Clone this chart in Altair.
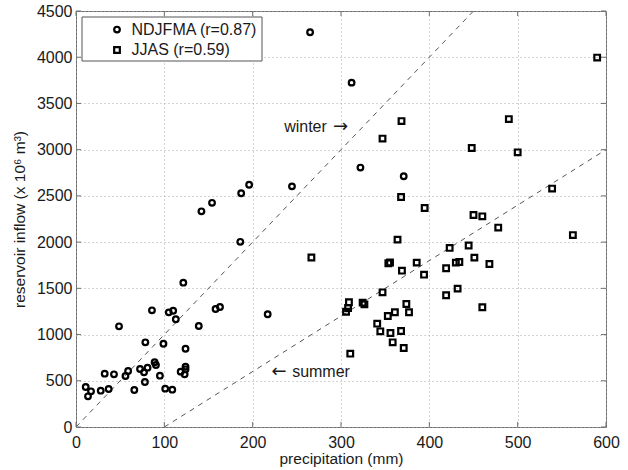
import altair as alt
import pandas as pd

SERIES = ["NDJFMA (r=0.87)", "JJAS (r=0.59)"]
SHAPES = ["circle", "square"]

WIN_X = [265, 312, 322, 371, 244.5, 196, 187, 154, 142, 186,
         217, 121.5, 86, 105, 110, 113, 158, 163, 139, 48.7,
         78.5, 99, 124, 89, 90.5, 72.5, 81, 77, 59, 56,
         32.5, 43, 95, 78, 118.5, 124, 124, 123, 11, 13.6,
         17, 28, 37, 66, 101, 109]
WIN_Y = [4270, 3725, 2806, 2712, 2603, 2620, 2528, 2425, 2333, 2003,
         1220, 1561, 1262, 1240, 1258, 1165, 1276, 1298, 1093, 1089,
         916, 901, 847, 700, 671, 627, 642, 591, 606, 552,
         577, 570, 555, 487, 599, 653, 624, 570, 433, 332,
         386, 393, 411, 400, 415, 404]

SUM_X = [590, 490, 368.5, 347, 448, 500, 539, 562.5, 266.5,
         368, 394.7, 450, 460, 478, 364, 423, 444.5, 353.6, 355.5,
         385.7, 430, 434, 451, 468, 369, 394, 419, 432, 419,
         460, 347, 309, 308, 305.7, 324.5, 326.5, 374, 377, 361,
         353, 341, 344.5, 356, 368, 358.5, 371, 310.5]
SUM_Y = [3996, 3331, 3309, 3120, 3018, 2971, 2579, 2076, 1833,
         2488, 2369, 2293, 2279, 2157, 2027, 1937, 1963, 1771, 1779,
         1778, 1778, 1785, 1832, 1763, 1691, 1648, 1717, 1497, 1425,
         1295, 1457, 1349, 1287, 1247, 1345, 1327, 1331, 1241, 1241,
         1201, 1118, 1035, 1017, 1038, 916, 855, 793]

# reference lines
LINE_NAMES = ["winter", "winter", "summer", "summer"]
LINE_X = [0, 450, 100, 600]
LINE_Y = [0, 4500, 0, 3000]

# annotations (words and arrows)
WORD_TEXT = ["winter", "summer"]
WORD_X = [259.8, 277.4]
WORD_Y = [3242, 593]
ARROW_TEXT = ["\u2192", "\u2190"]
ARROW_X = [299.4, 229.8]
ARROW_Y = [3242, 593]

X_TICKS = [0, 100, 200, 300, 400, 500, 600]
Y_TICKS = [0, 500, 1000, 1500, 2000, 2500, 3000, 3500, 4000, 4500]

W, H = 530, 416
FONT = "Liberation Sans"
TXT = "#1a1a1a"
BOX = "#6e6e6e"

pts = pd.DataFrame({
    "x": WIN_X + SUM_X,
    "y": WIN_Y + SUM_Y,
    "series": [SERIES[0]] * len(WIN_X) + [SERIES[1]] * len(SUM_X),
})
lines = pd.DataFrame({"x": LINE_X, "y": LINE_Y, "line": LINE_NAMES})
words = pd.DataFrame({"x": WORD_X, "y": WORD_Y, "t": WORD_TEXT})
arrows = pd.DataFrame({"x": ARROW_X, "y": ARROW_Y, "t": ARROW_TEXT})
xt = pd.DataFrame({"x": X_TICKS})
yt = pd.DataFrame({"y": Y_TICKS})

xs = alt.Scale(domain=[0, 600], nice=False, zero=False)
ys = alt.Scale(domain=[0, 4500], nice=False, zero=False)
X_TITLE = "precipitation (mm)"
Y_TITLE = "reservoir inflow (x 10\u2076 m\u00b3)"

ax_x = alt.Axis(values=X_TICKS, grid=True, gridDash=[1, 3], gridColor="#a8a8a8",
                ticks=False, domain=False, labelFontSize=16, labelFont=FONT,
                labelColor=TXT, labelPadding=7, titleFontSize=15.5, titleFont=FONT,
                titleFontWeight="normal", titleColor=TXT, titlePadding=1,
                format="d", labelFlush=False)
ax_y = alt.Axis(values=Y_TICKS, grid=True, gridDash=[1, 3], gridColor="#a8a8a8",
                ticks=False, domain=False, labelFontSize=16, labelFont=FONT,
                labelColor=TXT, labelPadding=4, titleFontSize=15.5, titleFont=FONT,
                titleFontWeight="normal", titleColor=TXT, titlePadding=9,
                format="d", labelFlush=False)


def X(field="x"):
    return alt.X(f"{field}:Q", scale=xs, axis=ax_x, title=X_TITLE)


def Y(field="y"):
    return alt.Y(f"{field}:Q", scale=ys, axis=ax_y, title=Y_TITLE)


points = alt.Chart(pts).mark_point(
    filled=False, size=32, strokeWidth=2.2, color="black", opacity=1
).encode(
    x=X(), y=Y(),
    shape=alt.Shape("series:N",
                    scale=alt.Scale(domain=SERIES, range=SHAPES),
                    legend=None),
)

ref_lines = alt.Chart(lines).mark_line(
    strokeDash=[5, 5], color="#555555", strokeWidth=1
).encode(x=X(), y=Y(), detail="line:N")

word_marks = alt.Chart(words).mark_text(
    font=FONT, fontSize=16, color=TXT
).encode(x=X(), y=Y(), text="t:N")

arrow_marks = alt.Chart(arrows).mark_text(
    font="DejaVu Sans", fontSize=18, color=TXT
).encode(x=X(), y=Y(), text="t:N")

tick_b = alt.Chart(xt).mark_rule(color=BOX, strokeWidth=1).encode(
    x=X(), y=alt.value(H), y2=alt.value(H - 5))
tick_t = alt.Chart(xt).mark_rule(color=BOX, strokeWidth=1).encode(
    x=X(), y=alt.value(0), y2=alt.value(5))
tick_l = alt.Chart(yt).mark_rule(color=BOX, strokeWidth=1).encode(
    y=Y(), x=alt.value(0), x2=alt.value(5))
tick_r = alt.Chart(yt).mark_rule(color=BOX, strokeWidth=1).encode(
    y=Y(), x=alt.value(W), x2=alt.value(W - 5))

# legend (box + rows)
leg_df = pd.DataFrame({"t": SERIES})
legend_box = alt.Chart(leg_df.head(1)).mark_rect(
    fill="white", stroke="#555555", strokeWidth=1
).encode(x=alt.value(6), x2=alt.value(186), y=alt.value(6), y2=alt.value(50))

ROW_Y = [18.6, 39.0]
legend_layers = []
for i, name in enumerate(SERIES):
    row = pd.DataFrame({"t": [name]})
    legend_layers.append(
        alt.Chart(row).mark_point(
            shape=SHAPES[i], filled=False, size=32, strokeWidth=2.2,
            color="black", opacity=1
        ).encode(x=alt.value(41), y=alt.value(ROW_Y[i]))
    )
    legend_layers.append(
        alt.Chart(row).mark_text(
            font=FONT, fontSize=16, color=TXT, align="left", baseline="middle"
        ).encode(x=alt.value(55.5), y=alt.value(ROW_Y[i]), text="t:N")
    )

chart = alt.layer(
    ref_lines, tick_b, tick_t, tick_l, tick_r, word_marks, arrow_marks,
    points, legend_box, *legend_layers
).properties(
    width=W, height=H,
    autosize=alt.AutoSizeParams(type="none"),
    padding={"left": 76, "top": 11, "right": 22, "bottom": 43},
    background="white",
).configure_view(
    stroke=BOX, strokeWidth=1
)

chart.save("out.html", embed_options={"renderer": "svg", "actions": False})
